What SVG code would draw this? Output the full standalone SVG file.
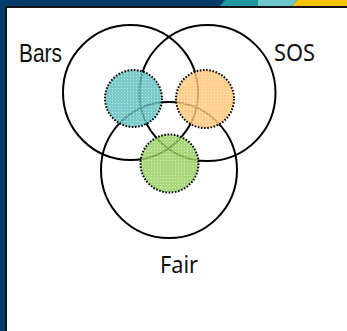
<svg xmlns="http://www.w3.org/2000/svg" width="347" height="331" viewBox="0 0 347 331">
<defs>
<style>
.big{fill:none;stroke:#000;stroke-width:2}
.spot{stroke:#000;stroke-width:2;stroke-dasharray:1.6 1.6;fill-opacity:0.82}
.lbl{font-family:"Liberation Sans",Arial,sans-serif;font-size:26px;fill:#111}
.lbl2{font-family:"Noto Sans","Open Sans",sans-serif;font-size:24px;fill:#111}
</style>
<pattern id="dots" width="3" height="3" patternUnits="userSpaceOnUse"><rect x="1" y="1" width="1" height="1" fill="#fff" fill-opacity="0.5"/></pattern>
</defs>
<rect width="347" height="331" fill="#fff"/>
<g id="frame">
<rect x="0" y="0" width="347" height="6" fill="#053a6a"/>
<rect x="0" y="0" width="5" height="331" fill="#053a6a"/>
<polygon points="220,6 225,0 260,0 260,6" fill="#1e97a2"/>
<polygon points="258,6 258,0 297,0 292,6" fill="#6ac6c8"/>
<polygon points="292,6 297,0 347,0 347,6" fill="#f4c20d"/>
<rect x="5" y="6" width="342" height="2" fill="#111"/>
<rect x="5" y="6" width="2" height="325" fill="#111"/>
</g>
<g id="sets">
<circle id="bars" class="big" cx="130.5" cy="92.5" r="67.5"/>
<circle id="sos" class="big" cx="207.5" cy="93" r="68"/>
<circle id="fair" class="big" cx="169" cy="170" r="68"/>
</g>
<g id="spot-teal"><circle class="spot" cx="133.5" cy="98.5" r="28.5" fill="#5fbfbf"/><circle cx="133.5" cy="98.5" r="27.5" fill="url(#dots)"/></g>
<g id="spot-orange"><circle class="spot" cx="205" cy="99" r="29" fill="#ffc575"/><circle cx="205" cy="99" r="28" fill="url(#dots)"/></g>
<g id="spot-green"><circle class="spot" cx="169.5" cy="163.5" r="29" fill="#97cf5f"/><circle cx="169.5" cy="163.5" r="28" fill="url(#dots)"/></g>
<g id="labels">
<text class="lbl" x="19" y="62" textLength="43" lengthAdjust="spacingAndGlyphs">Bars</text>
<text class="lbl2" x="274" y="61" textLength="41" lengthAdjust="spacingAndGlyphs">SOS</text>
<text class="lbl2" x="160" y="273" textLength="38" lengthAdjust="spacingAndGlyphs">Fair</text>
</g>
</svg>
